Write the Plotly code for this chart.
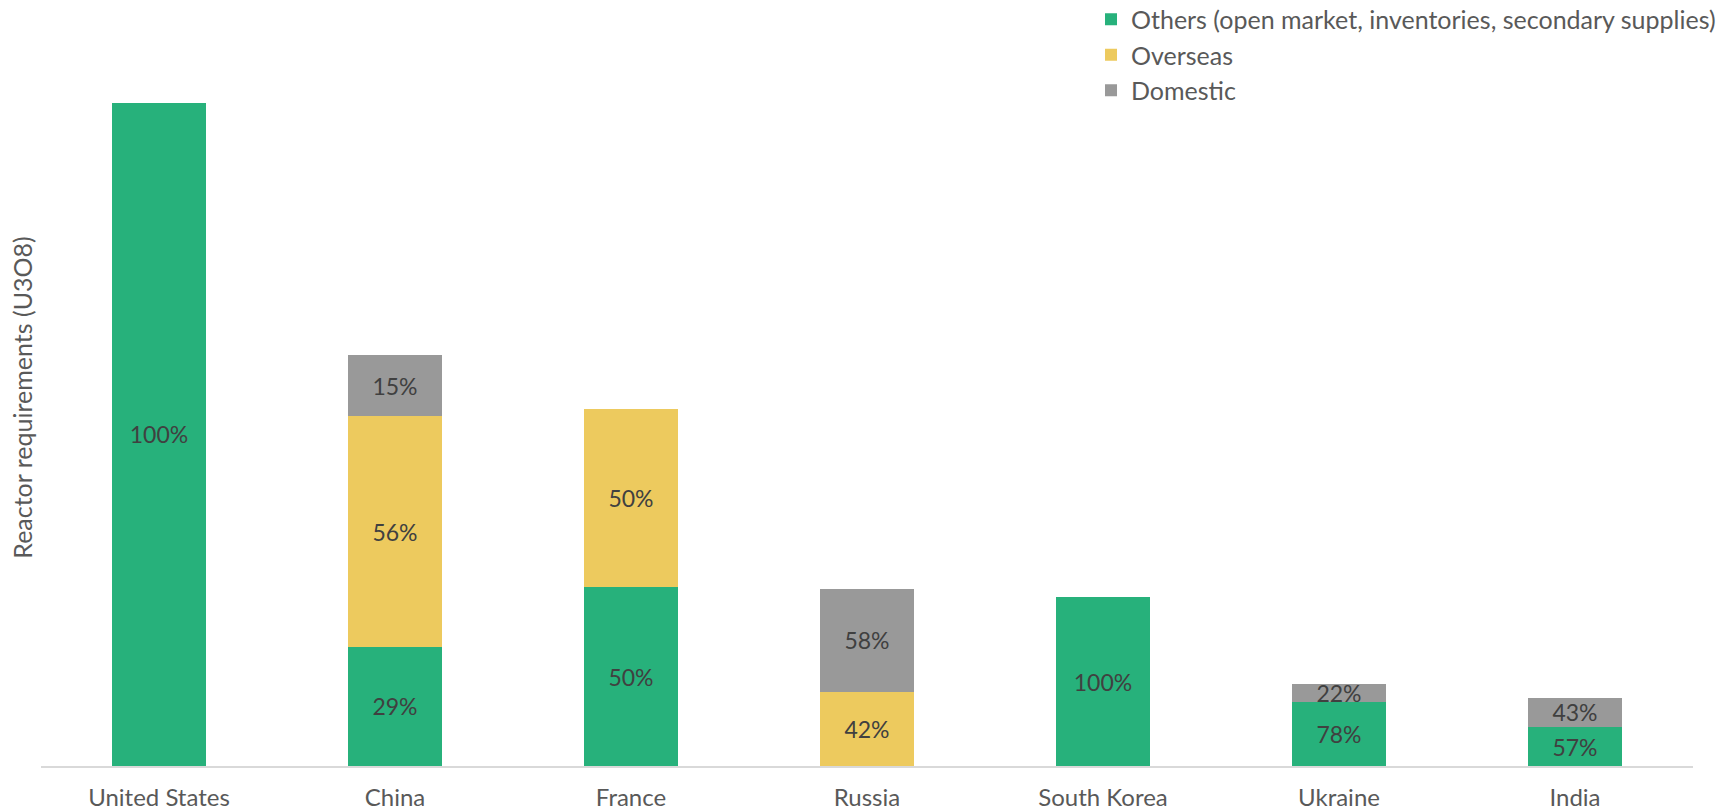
import plotly.graph_objects as go

countries = ["United States", "China", "France", "Russia", "South Korea", "Ukraine", "India"]
# Reactor requirements (t U3O8)
totals = [18000, 11160, 9690, 4800, 4580, 2230, 1850]
# Shares of supply by source (%)
others_share = [100, 29, 50, 0, 100, 78, 57]
overseas_share = [0, 56, 50, 42, 0, 0, 0]
domestic_share = [0, 15, 0, 58, 0, 22, 43]

series = [
    ("Others (open market, inventories, secondary supplies)", others_share, "#27B17B"),
    ("Overseas", overseas_share, "#EDCA5E"),
    ("Domestic", domestic_share, "#999999"),
]

fig = go.Figure()
for name, share, color in series:
    vals = [t * s / 100 for t, s in zip(totals, share)]
    txt = [f"{s}%" if s > 0 else "" for s in share]
    fig.add_trace(go.Bar(
        x=countries, y=vals, name=name, legendgroup=name,
        marker=dict(color=color, line=dict(width=0)),
        text=txt, textposition="inside", insidetextanchor="middle",
        constraintext="none",
        textfont=dict(family="Lato", size=23, color="#404040"),
        hoverinfo="skip",
    ))

fig.update_layout(
    barmode="stack",
    bargap=0.6,
    width=1735, height=812,
    margin=dict(l=41, r=42, t=29, b=46, autoexpand=False),
    paper_bgcolor="white", plot_bgcolor="white",
    font=dict(family="Lato", color="#595959"),
    uniformtext=dict(minsize=23, mode="show"),
    showlegend=True,
    legend=dict(
        x=0.6356, xanchor="left", y=1.044, yanchor="top",
        traceorder="grouped", tracegroupgap=0,
        font=dict(family="Lato", size=25, color="#595959"),
        bgcolor="rgba(0,0,0,0)",
    ),
    xaxis=dict(
        showline=True, linecolor="#D9D9D9", linewidth=2,
        ticks="", showgrid=False, zeroline=False,
        tickfont=dict(family="Lato", size=24, color="#595959"),
        ticklabelstandoff=9, automargin=False,
    ),
    yaxis=dict(
        range=[0, 20000], showticklabels=False, showgrid=False,
        zeroline=False, showline=False, ticks="",
        title=dict(text="Reactor requirements (U3O8)",
                   font=dict(family="Lato", size=25, color="#595959"),
                   standoff=0),
        automargin=False,
    ),
)

fig.write_html("out.html", config={"displayModeBar": False},
               post_script="document.body.style.margin='0';")
